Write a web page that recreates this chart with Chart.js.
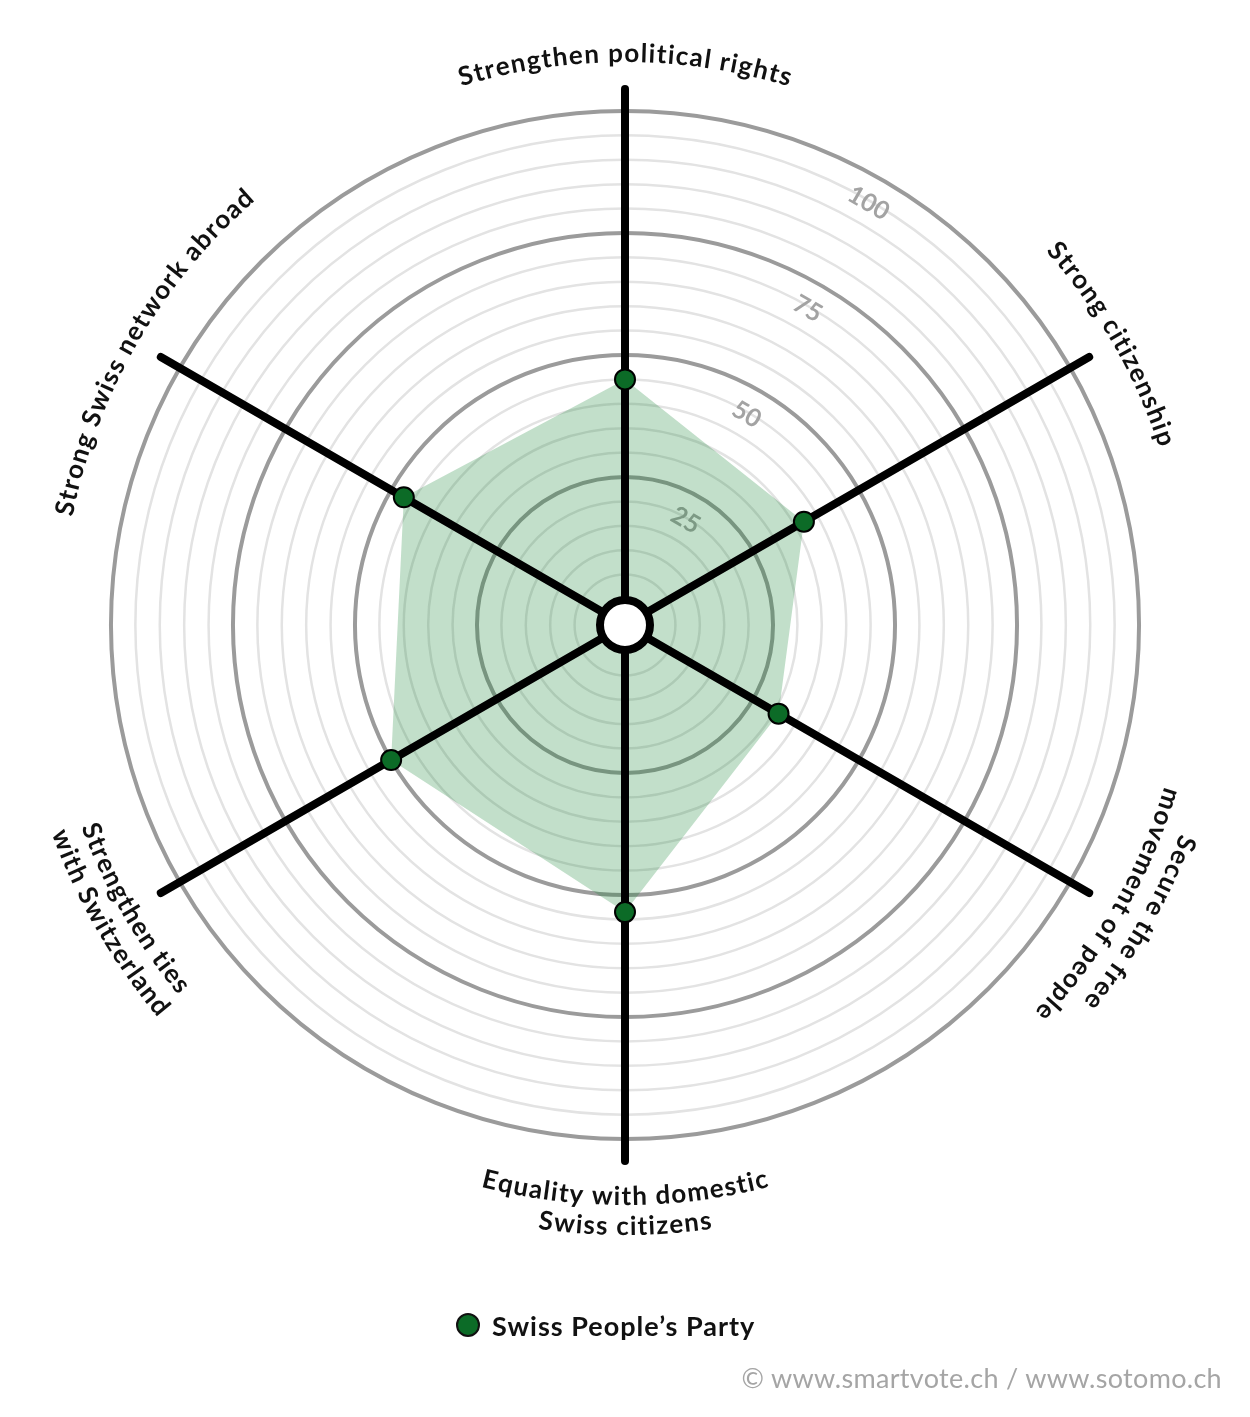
<!DOCTYPE html>
<html>
<head>
<meta charset="utf-8">
<title>smartspider</title>
<script src="https://cdn.jsdelivr.net/npm/chart.js@4"></script>
<style>
  html, body { margin: 0; padding: 0; background: #fff; }
  #wrap { position: relative; width: 1250px; height: 1417px; font-family: Lato, "Open Sans", sans-serif; }
  #wrap canvas { position: absolute; left: 0; top: 0; }
  .legend { position: absolute; left: 456px; top: 1309px; height: 32px; display: flex; align-items: center; font-size: 27px; font-weight: 700; letter-spacing: 1px; color: #111; }
  .legend .dot { width: 20px; height: 20px; border-radius: 50%; background: #0c6b27; border: 2px solid #111; margin-right: 12px; }
  .credit { position: absolute; right: 28px; top: 1361px; font-size: 27px; letter-spacing: 0.3px; color: #a5a5a5; font-weight: 400; }
</style>
</head>
<body>
<div id="wrap">
  <canvas id="spider" width="1250" height="1417"></canvas>
  <div class="legend"><span class="dot"></span><span id="seriesLabel"></span></div>
  <div class="credit">© www.smartvote.ch / www.sotomo.ch</div>
</div>
<script>
// categories (one entry per axis, split into lines)
const categories = [
    ['Strengthen political rights'],
    ['Strong citizenship'],
    ['Secure the free', 'movement of people'],
    ['Equality with domestic', 'Swiss citizens'],
    ['Strengthen ties', 'with Switzerland'],
    ['Strong Swiss network abroad'],
];
const seriesName = 'Swiss People’s Party';
const values = [45, 37, 31, 53.5, 50, 47];
const tickLabels = [25, 50, 75, 100];

// label orientation: true = letters turned towards the centre
const flipped = [false, false, false, true, true, false];

document.getElementById('seriesLabel').textContent = seriesName;

const LABEL_FONT = '700 26px Lato, "Open Sans", sans-serif';
const TRACKING = 1.3;

function drawArcText(ctx, text, cx, cy, radius, angle, inward) {
    ctx.font = LABEL_FONT;
    const chars = Array.from(text);
    const widths = chars.map(ch => ctx.measureText(ch).width);
    const total = widths.reduce((s, w) => s + w, 0) + TRACKING * (chars.length - 1);
    const span = total / radius;
    let acc = 0;
    chars.forEach((ch, i) => {
        const w = widths[i];
        const a = inward
            ? angle + span / 2 - (acc + w / 2) / radius
            : angle - span / 2 + (acc + w / 2) / radius;
        ctx.save();
        ctx.translate(cx + radius * Math.cos(a), cy + radius * Math.sin(a));
        ctx.rotate(inward ? a - Math.PI / 2 : a + Math.PI / 2);
        ctx.fillText(ch, 0, 0);
        ctx.restore();
        acc += w + TRACKING;
    });
}

const spiderDecor = {
    id: 'spiderDecor',
    beforeDatasetsDraw(chart) {
        // ring values, under the fill
        const scale = chart.scales.r;
        const ctx = chart.ctx;
        const a = -Math.PI / 3;
        ctx.save();
        ctx.fillStyle = '#a3a3a3';
        ctx.font = '700 25px Lato, "Open Sans", sans-serif';
        ctx.textAlign = 'center';
        ctx.textBaseline = 'middle';
        tickLabels.forEach(v => {
            const r = scale.getDistanceFromCenterForValue(v) - 27;
            ctx.save();
            ctx.translate(scale.xCenter + r * Math.cos(a), scale.yCenter + r * Math.sin(a));
            ctx.rotate(Math.PI / 6);
            ctx.fillText(String(v), 0, 0);
            ctx.restore();
        });
        ctx.restore();
    },
    beforeDatasetDraw(chart, args) {
        // spokes go between the area and the markers
        if (args.index !== 1) return;
        const scale = chart.scales.r;
        const ctx = chart.ctx;
        ctx.save();
        ctx.lineCap = 'round';
        chart.scales.spokes.drawGrid();
        ctx.restore();

        ctx.save();
        ctx.beginPath();
        ctx.arc(scale.xCenter, scale.yCenter, 25, 0, Math.PI * 2);
        ctx.fillStyle = '#fff';
        ctx.fill();
        ctx.lineWidth = 8;
        ctx.strokeStyle = '#000';
        ctx.stroke();
        ctx.restore();
    },
    afterDatasetsDraw(chart) {
        const scale = chart.scales.r;
        const ctx = chart.ctx;
        ctx.save();
        ctx.fillStyle = '#111';
        ctx.textAlign = 'center';
        ctx.textBaseline = 'alphabetic';
        categories.forEach((lines, i) => {
            const ang = scale.getIndexAngle(i) - Math.PI / 2;
            const inward = flipped[i];
            lines.forEach((line, k) => {
                let r;
                if (inward) {
                    r = scale.drawingArea + 44 + k * 30;
                } else {
                    r = scale.drawingArea + 27 + (lines.length - 1 - k) * 30;
                }
                drawArcText(ctx, line, scale.xCenter, scale.yCenter, r, ang, inward);
            });
        });
        ctx.restore();
    }
};

new Chart(
    document.getElementById('spider'),
    {
        type: 'radar',
        data: {
            labels: categories,
            datasets: [
                {
                    label: seriesName,
                    data: values,
                    rAxisID: 'r',
                    order: 2,
                    fill: true,
                    backgroundColor: 'rgba(20, 130, 50, 0.26)',
                    borderColor: 'rgba(0,0,0,0)',
                    borderWidth: 0,
                    pointRadius: 0,
                },
                {
                    label: seriesName,
                    data: values,
                    rAxisID: 'r',
                    order: 1,
                    fill: false,
                    showLine: false,
                    borderWidth: 0,
                    pointBackgroundColor: '#0c6b27',
                    pointBorderColor: '#000',
                    pointBorderWidth: 2,
                    pointRadius: 10,
                }
            ]
        },
        options: {
            responsive: false,
            animation: false,
            layout: {
                padding: { left: 89, right: 89, top: 89, bottom: 256 }
            },
            scales: {
                r: {
                    min: -5.33,
                    max: 104.5,
                    ticks: { display: false, stepSize: 5 },
                    pointLabels: { display: false },
                    angleLines: { display: false },
                    grid: {
                        circular: true,
                        color: ctx => {
                            const v = ctx.tick.value;
                            if (tickLabels.includes(v)) return '#9b9b9b';
                            if (v > 0 && v < 100 && v % 5 === 0) return '#e3e3e3';
                            return 'rgba(0,0,0,0)';
                        },
                        lineWidth: ctx => tickLabels.includes(ctx.tick.value) ? 4 : 2.5,
                    },
                },
                spokes: {
                    type: 'radialLinear',
                    axis: 'r',
                    display: false,
                    min: -5.33,
                    max: 104.5,
                    ticks: { display: false, stepSize: 5 },
                    pointLabels: { display: false },
                    grid: { display: false },
                    angleLines: { display: true, color: '#000', lineWidth: 8 },
                }
            },
            plugins: {
                legend: { display: false },
                tooltip: { enabled: false }
            }
        },
        plugins: [spiderDecor]
    }
);
</script>
</body>
</html>
